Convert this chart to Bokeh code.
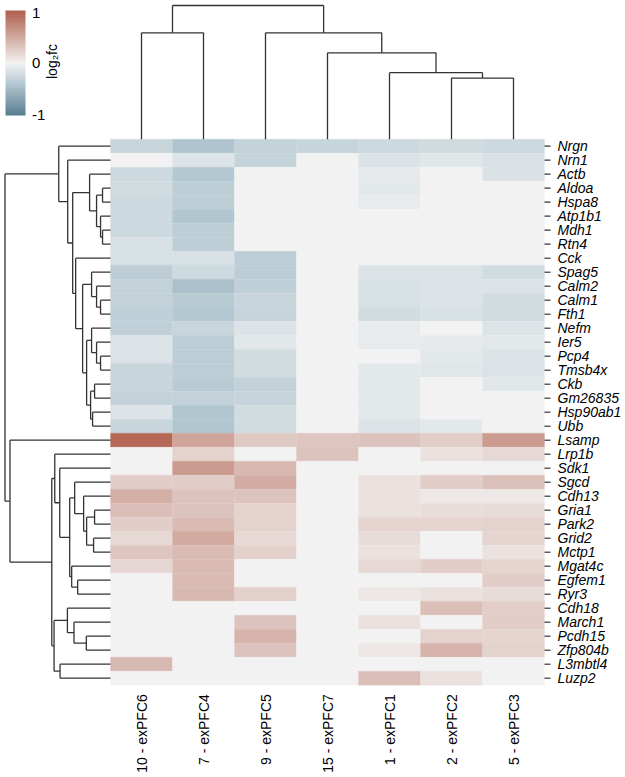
import numpy as np
from bokeh.plotting import figure
from bokeh.models import Range1d, LinearColorMapper, ColorBar, FixedTicker, ColumnDataSource, Label
from bokeh.core.properties import value
from bokeh.embed import file_html
from bokeh.resources import INLINE

# ---------------- data ----------------
clusters = ["10 - exPFC6", "7 - exPFC4", "9 - exPFC5", "15 - exPFC7",
            "1 - exPFC1", "2 - exPFC2", "5 - exPFC3"]

genes = ["Nrgn", "Nrn1", "Actb", "Aldoa", "Hspa8", "Atp1b1", "Mdh1", "Rtn4", "Cck",
         "Spag5", "Calm2", "Calm1", "Fth1", "Nefm", "Ier5", "Pcp4", "Tmsb4x", "Ckb",
         "Gm26835", "Hsp90ab1", "Ubb", "Lsamp", "Lrp1b", "Sdk1", "Sgcd", "Cdh13",
         "Gria1", "Park2", "Grid2", "Mctp1", "Mgat4c", "Egfem1", "Ryr3", "Cdh18",
         "March1", "Pcdh15", "Zfp804b", "L3mbtl4", "Luzp2"]

# log2 fold change per cluster (gene order as above)
fc_exPFC6 = [-0.27, 0, -0.24, -0.21, -0.24, -0.24, -0.24, -0.17, -0.17, -0.35, -0.30, -0.30, -0.32,
             -0.32, -0.14, -0.14, -0.27, -0.27, -0.30, -0.13, -0.27,
             0.93, 0, 0, 0.25, 0.45, 0.35, 0.25, 0.18, 0.30, 0.19, 0, 0, 0, 0, 0, 0, 0.39, 0]
fc_exPFC4 = [-0.43, -0.13, -0.40, -0.34, -0.34, -0.41, -0.34, -0.34, -0.17, -0.24, -0.46, -0.37, -0.40,
             -0.27, -0.35, -0.35, -0.35, -0.37, -0.30, -0.41, -0.41,
             0.52, 0.22, 0.59, 0.26, 0.32, 0.32, 0.37, 0.49, 0.37, 0.37, 0.37, 0.39, 0, 0, 0, 0, 0, 0]
fc_exPFC5 = [-0.30, -0.29, 0, 0, 0, 0, 0, 0, -0.35, -0.35, -0.32, -0.27, -0.28,
             -0.14, -0.11, -0.21, -0.21, -0.30, -0.29, -0.21, -0.21,
             0.28, 0, 0.39, 0.47, 0.32, 0.22, 0.22, 0.18, 0.23, 0, 0, 0.23, 0, 0.32, 0.42, 0.32, 0, 0]
fc_exPFC7 = [-0.28, 0, 0, 0, 0, 0, 0, 0, 0, 0, 0, 0, 0,
             0, 0, 0, 0, 0, 0, 0, 0,
             0.30, 0.32, 0, 0, 0, 0, 0, 0, 0, 0, 0, 0, 0, 0, 0, 0, 0, 0]
fc_exPFC1 = [-0.24, -0.14, -0.08, -0.09, -0.06, 0, 0, 0, 0, -0.14, -0.17, -0.17, -0.21,
             -0.06, -0.06, 0, -0.09, -0.09, -0.09, -0.09, -0.14,
             0.32, 0, 0, 0.11, 0.11, 0.11, 0.20, 0.15, 0.11, 0.18, 0, 0.07, 0, 0.11, 0, 0.08, 0, 0.35]
fc_exPFC2 = [-0.22, -0.11, 0, 0, 0, 0, 0, 0, 0, -0.14, -0.14, -0.14, -0.17,
             0, -0.08, -0.09, -0.11, 0, 0, 0, -0.09,
             0.25, 0.11, 0, 0.25, 0.07, 0.14, 0.20, 0, 0, 0.25, 0, 0.11, 0.35, 0, 0.22, 0.42, 0, 0.11]
fc_exPFC3 = [-0.24, -0.15, -0.15, 0, 0, 0, 0, 0, 0, -0.21, -0.14, -0.21, -0.21,
             -0.13, -0.09, -0.14, -0.14, -0.11, 0, 0, 0,
             0.59, 0.18, 0, 0.34, 0.08, 0.15, 0.22, 0.20, 0.11, 0.20, 0.25, 0.15, 0.25, 0.25, 0.20, 0.22, 0, 0]

# column dendrogram: (node, child a, child b, height)
col_merges = [
    ("c25", "2 - exPFC2", "5 - exPFC3", 6.03),
    ("c125", "1 - exPFC1", "c25", 6.57),
    ("c15", "15 - exPFC7", "c125", 8.53),
    ("c9", "9 - exPFC5", "c15", 10.5),
    ("c10_7", "10 - exPFC6", "7 - exPFC4", 10.5),
    ("croot", "c10_7", "c9", 13.2),
]

# row dendrogram: (node, child a, child b, height)
row_merges = [
    ("F", "Aldoa", "Hspa8", 8), ("H", "Mdh1", "Rtn4", 8), ("G", "Atp1b1", "H", 10),
    ("E", "F", "G", 14), ("D", "Actb", "E", 21),
    ("M", "Calm1", "Fth1", 10), ("L", "Calm2", "M", 14), ("K", "Spag5", "L", 19),
    ("Q", "Pcp4", "Tmsb4x", 10), ("P", "Ier5", "Q", 14), ("O", "Nefm", "P", 19),
    ("R1", "Ckb", "Gm26835", 16), ("R2", "Hsp90ab1", "Ubb", 18), ("R", "R1", "R2", 20),
    ("N", "O", "R", 24), ("J", "K", "N", 28), ("I", "Cck", "J", 35), ("C", "D", "I", 38),
    ("B", "Nrn1", "C", 43), ("A", "Nrgn", "B", 52),
    ("GP", "Gria1", "Park2", 16), ("GM", "Grid2", "Mctp1", 17), ("T2", "GP", "GM", 24),
    ("T", "Cdh13", "T2", 27), ("U", "Sgcd", "T", 36),
    ("ER", "Egfem1", "Ryr3", 33), ("S", "Mgat4c", "ER", 39), ("V", "U", "S", 41),
    ("W", "Sdk1", "V", 51), ("X", "Lrp1b", "W", 56),
    ("PZ", "Pcdh15", "Zfp804b", 24.3), ("MPZ", "March1", "PZ", 36.7),
    ("C4", "Cdh18", "MPZ", 43.3), ("LL", "L3mbtl4", "Luzp2", 50.7),
    ("Y2", "C4", "LL", 56.7), ("Y", "X", "Y2", 59),
    ("Z", "Lsamp", "Y", 101), ("root", "A", "Z", 106),
]

legend_ticks = [1, 0, -1]

# ---------------- layout constants (pixels) ----------------
W, H = 625, 777
HM_LEFT, HM_TOP = 110, 138.7
CELL_W, CELL_H = 62, 14
TOP_K = (HM_TOP - 5) / 13.2        # px per unit of column-dendrogram height
LEFT_K = (HM_LEFT - 4.5) / 106     # px per unit of row-dendrogram height
FONT_NAME = "Liberation Sans"
FONT = value(FONT_NAME)
LINE = "#333333"
BAR_X, BAR_TOP, BAR_W, BAR_H = 5, 10, 20, 105

ncol, nrow = len(clusters), len(genes)
x_range = Range1d(start=-HM_LEFT / CELL_W, end=(W - HM_LEFT) / CELL_W)
y_range = Range1d(start=(H - HM_TOP) / CELL_H, end=-HM_TOP / CELL_H)  # flipped: row 0 on top

p = figure(width=W, height=H, x_range=x_range, y_range=y_range,
           output_backend="svg", toolbar_location=None, min_border=0,
           x_axis_location=None, y_axis_location=None, outline_line_color=None)
p.grid.visible = False
p.extra_y_ranges = {"top_h": Range1d(start=-(H - HM_TOP) / TOP_K, end=HM_TOP / TOP_K)}
p.extra_x_ranges = {"left_h": Range1d(start=HM_LEFT / LEFT_K, end=-(W - HM_LEFT) / LEFT_K)}

# ---------------- palette ----------------
def build_palette(n=257):
    anchors_t = [-1.0, -0.4, 0.0, 1.0]
    anchors_c = [np.array([88, 124, 145]), np.array([180, 200, 209]),
                 np.array([242, 242, 242]), np.array([176, 95, 75])]
    out = []
    for t in np.linspace(-1, 1, n):
        for k in range(len(anchors_t) - 1):
            if anchors_t[k] <= t <= anchors_t[k + 1]:
                f = (t - anchors_t[k]) / (anchors_t[k + 1] - anchors_t[k])
                c = anchors_c[k] + (anchors_c[k + 1] - anchors_c[k]) * f
                break
        out.append("#%02x%02x%02x" % tuple(int(round(v)) for v in c))
    return out

mapper = LinearColorMapper(palette=build_palette(), low=-1, high=1)

# ---------------- heatmap ----------------
columns = [fc_exPFC6, fc_exPFC4, fc_exPFC5, fc_exPFC7, fc_exPFC1, fc_exPFC2, fc_exPFC3]
xs, ys, vs = [], [], []
for ci, col in enumerate(columns):
    for ri, v in enumerate(col):
        xs.append(ci + 0.5); ys.append(ri + 0.5); vs.append(v)
src = ColumnDataSource(dict(x=xs, y=ys, v=vs))
p.rect(x="x", y="y", width=1, height=1, source=src,
       fill_color={"field": "v", "transform": mapper},
       line_color={"field": "v", "transform": mapper}, line_width=0.3)

# ---------------- dendrograms ----------------
def dendro(leaf_order, merges):
    pos = {name: i + 0.5 for i, name in enumerate(leaf_order)}
    ht = {name: 0.0 for name in leaf_order}
    p0, h0, p1, h1 = [], [], [], []
    for node, a, b, h in merges:
        for c in (a, b):
            p0.append(pos[c]); h0.append(ht[c]); p1.append(pos[c]); h1.append(h)
        p0.append(pos[a]); h0.append(h); p1.append(pos[b]); h1.append(h)
        pos[node] = (pos[a] + pos[b]) / 2
        ht[node] = h
    return p0, h0, p1, h1

c0, ch0, c1, ch1 = dendro(clusters, col_merges)
p.segment(x0=c0, y0=ch0, x1=c1, y1=ch1, y_range_name="top_h",
          line_color=LINE, line_width=1.3)

r0, rh0, r1, rh1 = dendro(genes, row_merges)
p.segment(x0=rh0, y0=r0, x1=rh1, y1=r1, x_range_name="left_h",
          line_color=LINE, line_width=1.3)

# ---------------- row labels + ticks ----------------
row_y = [i + 0.5 for i in range(nrow)]
p.segment(x0=[ncol] * nrow, y0=row_y, x1=[ncol + 6 / CELL_W] * nrow, y1=row_y,
          line_color=LINE, line_width=1.2)
p.text(x=[ncol] * nrow, y=row_y, text=genes, x_offset=13,
       text_font=FONT, text_font_style="italic", text_font_size="14px",
       text_baseline="middle", text_align="left", text_color="black")

# ---------------- column labels ----------------
p.text(x=[i + 0.5 for i in range(ncol)], y=[nrow] * ncol, text=clusters,
       angle=np.pi / 2, y_offset=9, text_font=FONT, text_font_size="14px",
       text_align="right", text_baseline="middle", text_color="black")

# ---------------- legend ----------------
cb = ColorBar(color_mapper=mapper, location=(BAR_X, H - BAR_TOP - BAR_H),
              width=BAR_W, height=BAR_H, padding=0, ticker=FixedTicker(ticks=[]),
              major_tick_line_color=None, minor_tick_line_color=None,
              bar_line_color=None, border_line_color=None,
              background_fill_alpha=0)
p.add_layout(cb)

# tick labels placed along the bar (value -> pixel position on the bar)
for t in legend_ticks:
    frac = (t - mapper.low) / (mapper.high - mapper.low)
    y_px = BAR_TOP + BAR_H * (1 - frac)
    y_px = min(max(y_px, BAR_TOP + 2.5), BAR_TOP + BAR_H - 1)
    p.add_layout(Label(x=BAR_X + BAR_W + 6.5, y=H - y_px, x_units="screen", y_units="screen",
                       text=str(t), text_font=FONT_NAME, text_font_size="15px",
                       text_align="left", text_baseline="middle", text_color="black"))

p.add_layout(Label(x=51, y=H - 61, x_units="screen", y_units="screen", text="log₂fc",
                   angle=np.pi / 2, text_font=FONT_NAME, text_font_size="14px",
                   text_align="center", text_baseline="middle", text_color="black"))

open("out.html", "w").write(file_html(p, INLINE))
